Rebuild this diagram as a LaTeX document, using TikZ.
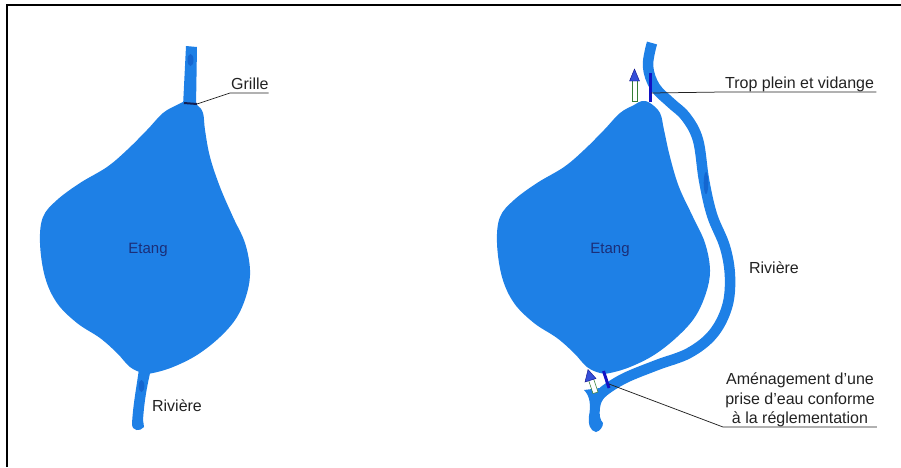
\documentclass[tikz,border=0pt]{standalone}
\usepackage{fontspec}
\setmainfont{Liberation Sans}
\definecolor{pond}{HTML}{1E80E6}
\definecolor{pondd}{HTML}{1466D0}
\definecolor{barblue}{HTML}{1212C4}
\definecolor{arrblue}{HTML}{3550D8}
\definecolor{navy}{HTML}{1B2E78}
\definecolor{ink}{HTML}{222222}
\tikzset{
  water/.style={fill=pond, draw=none},
  river/.style={draw=pond, line width=10.5, line cap=butt},
  lbl/.style={inner sep=0pt, text=ink, font=\fontsize{16}{19.5}\selectfont},
  pondlbl/.style={inner sep=0pt, text=navy, font=\fontsize{15}{18}\selectfont},
  leader/.style={draw=ink, line width=0.75},
  gatebar/.style={draw=barblue, line width=3},
  arrhead/.style={fill=arrblue, draw=barblue!70!black, line width=0.4},
  arrshaft/.style={fill=white, draw=gray!60!green!70!black, line width=0.5},
  streak/.style={fill=pondd}
}
\begin{document}
\begin{tikzpicture}[x=1pt,y=-1pt]
\useasboundingbox (0,0) rectangle (901,467);
% frame
\draw[line width=2] (7,467) -- (7,5) -- (901,5);

% ---------------- left: pond on the river ----------------
\fill[water] plot[smooth cycle, tension=0.6] coordinates {(177,105) (187,101) (197,105) (203,113) (205,130) (210,157) (220,187) (233,217) (245,243) (250,270) (247,293) (237,317) (220,337) (197,355) (173,367) (153,373) (143,373) (130,367) (117,353) (100,338) (77,323) (57,303) (45,277) (40,243) (43,217) (57,200) (80,183) (107,167) (127,150) (147,130) (163,113)};
% river upstream
\fill[water] (183,106) -- (186,46) -- (197,47) -- (196,106) -- cycle;
\fill[streak] (190.5,60) ellipse (3 and 6);
% river downstream
\fill[water] (139,369) .. controls (136,390) and (133,405) .. (132,424) .. controls (132,431) and (140,432) .. (144,427) .. controls (144,424) and (143,422) .. (143,420) .. controls (144,405) and (146,390) .. (151,369) -- cycle;
\fill[streak] (141.5,386) ellipse (2.8 and 6);
% grille
\draw[line width=2, draw=navy!70!black] (184,103) -- (197,104);
\coordinate (g) at (197,104);
\coordinate (gk) at (230,93);
\node[lbl, anchor=base west] (grille) at (231,89) {Grille};
\draw[leader] (g) -- (gk) -- (gk -| grille.east);
\node[pondlbl] (etang1) at (148,250) {Etang};
\node[lbl] (riv1) at (177,406) {Rivière};

% ---------------- right: pond off the river ----------------
\begin{scope}[shift={(457,0)}]
\fill[water] plot[smooth cycle, tension=0.6] coordinates {(177,105) (185,101) (193,103) (203,113) (207,130) (213,157) (222,187) (236,217) (248,243) (253,270) (249,293) (238,317) (220,337) (197,355) (173,367) (153,373) (143,373) (130,367) (117,353) (100,338) (77,323) (57,303) (45,277) (40,243) (43,217) (57,200) (80,183) (107,167) (127,150) (147,130) (163,113)};
\end{scope}
% diverted river
\draw[river] plot[smooth, tension=0.6] coordinates {(652,43) (648,66) (655,87) (671,103) (686,117) (698,140) (704,180) (712,215) (725,247) (730,277) (727,307) (713,334) (689,353) (657,365) (625,378) (604,391) (596,400)};
\fill[water] (584,390) .. controls (590,396) and (591,405) .. (589,416) .. controls (588,424) and (590,431) .. (596,432) .. controls (600,431) and (603,427) .. (603,423) .. controls (600,420) and (599,415) .. (600,408) .. controls (601,400) and (605,395) .. (612,390) -- (600,388) -- cycle;
\fill[streak] (706,183) ellipse (2.3 and 11);
% gates
\draw[gatebar] (650,73) -- (650,102);
\draw[gatebar] (603.5,371) -- (609,388);
% arrows
\draw[arrshaft] (632,80) rectangle (637,101);
\draw[arrhead] (629.5,81) -- (634.5,69) -- (639.5,81) -- cycle;
\draw[arrshaft] (588.5,380) -- (593.5,378.5) -- (598,392) -- (593,393.5) -- cycle;
\draw[arrhead] (585,382) -- (588,369.5) -- (596,378.5) -- cycle;
% labels
\coordinate (tb) at (651,93);
\coordinate (tk) at (723,92);
\node[lbl, anchor=base west] (trop) at (725,88) {Trop plein et vidange};
\draw[leader] (tb) -- (tk) -- ([xshift=2pt]tk -| trop.east);
\node[pondlbl] (etang2) at (610,250) {Etang};
\node[lbl] (riv2) at (774,268) {Rivière};
\coordinate (bb) at (609,384);
\coordinate (bk) at (723,427);
\node[lbl, anchor=north, align=center] (amen) at (800,373) {Aménagement d'une\\prise d'eau conforme\\à la réglementation};
\draw[leader] (bb) -- (bk) -- ([xshift=2pt]bk -| amen.east);
\end{tikzpicture}
\end{document}
